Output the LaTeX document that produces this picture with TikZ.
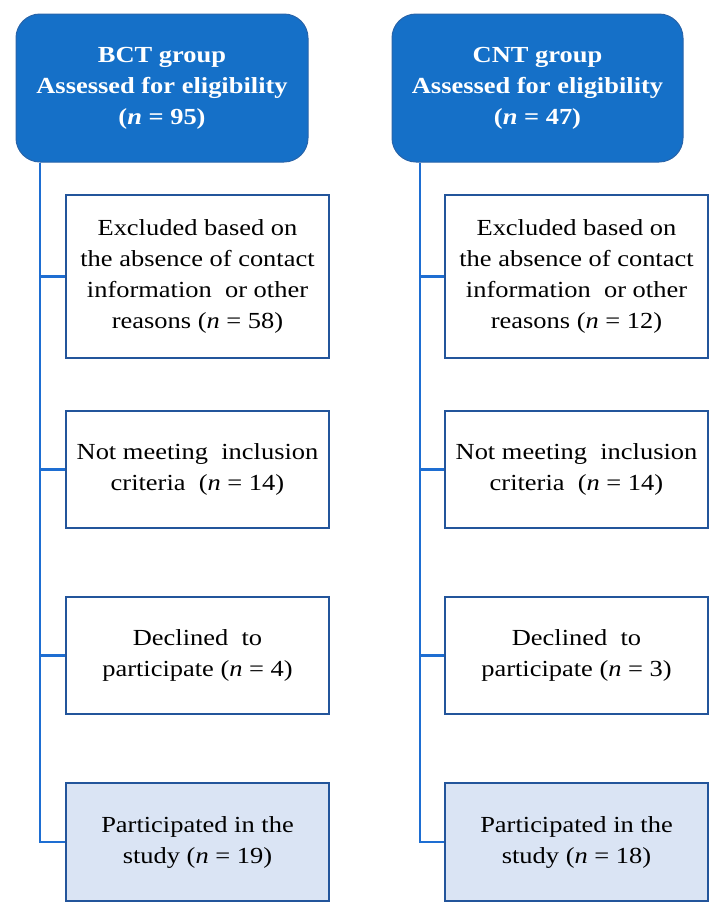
\documentclass[tikz,border=0pt]{standalone}
\usepackage{fontspec}
\setmainfont{Liberation Serif}[FakeStretch=1.15]
\begin{document}
\begin{tikzpicture}[x=1pt,y=-1pt,
  headbox/.style={draw=headborder, line width=1pt, fill=headblue, rounded corners=24pt,
    text=white, font=\fontsize{23}{31}\selectfont\bfseries, align=center,
    minimum width=292pt, minimum height=148pt, inner sep=0pt},
  stagebox/.style={draw=boxborder, line width=2.6pt, fill=white, align=center,
    font=\fontsize{23}{31}\selectfont, minimum width=263pt, inner sep=0pt},
  finalbox/.style={stagebox, fill=lightfill},
  link/.style={draw=linkblue, line width=2.4pt}]
\definecolor{headblue}{RGB}{21,112,200}
\definecolor{headborder}{RGB}{40,100,170}
\definecolor{boxborder}{RGB}{35,85,155}
\definecolor{linkblue}{RGB}{30,110,210}
\definecolor{lightfill}{RGB}{218,228,244}
\useasboundingbox (0,0) rectangle (719,916);
% left column
\node[headbox] (bct) at (162,88) {BCT group\\Assessed for eligibility\\(\textit{n} = 95)};
\node[stagebox, minimum height=163pt] (l1) at (197.5,276.5) {Excluded based on\\the absence of contact\\information\ \ or other\\reasons (\textit{n} = 58)};
\node[stagebox, minimum height=117pt] (l2) at (197.5,469.5) {Not meeting\ \ inclusion\\criteria\ \ (\textit{n} = 14)};
\node[stagebox, minimum height=117pt] (l3) at (197.5,655.5) {Declined\ \ to\\participate (\textit{n} = 4)};
\node[finalbox, minimum height=118pt] (l4) at (197.5,842) {Participated in the\\study (\textit{n} = 19)};
% right column
\node[headbox, minimum width=291pt] (cnt) at (537.5,88) {CNT group\\Assessed for eligibility\\(\textit{n} = 47)};
\node[stagebox, minimum height=163pt] (r1) at (576.5,276.5) {Excluded based on\\the absence of contact\\information\ \ or other\\reasons (\textit{n} = 12)};
\node[stagebox, minimum height=117pt] (r2) at (576.5,469.5) {Not meeting\ \ inclusion\\criteria\ \ (\textit{n} = 14)};
\node[stagebox, minimum height=117pt] (r3) at (576.5,655.5) {Declined\ \ to\\participate (\textit{n} = 3)};
\node[finalbox, minimum height=118pt] (r4) at (576.5,842) {Participated in the\\study (\textit{n} = 18)};
% connectors
\coordinate (lx) at (40,0);
\coordinate (rx) at (420,0);
\draw[link] (lx |- bct.south) -- (lx |- l4.west) -- (l4.west);
\draw[link] (lx |- l1.west) -- (l1.west);
\draw[link] (lx |- l2.west) -- (l2.west);
\draw[link] (lx |- l3.west) -- (l3.west);
\draw[link] (rx |- cnt.south) -- (rx |- r4.west) -- (r4.west);
\draw[link] (rx |- r1.west) -- (r1.west);
\draw[link] (rx |- r2.west) -- (r2.west);
\draw[link] (rx |- r3.west) -- (r3.west);
\end{tikzpicture}
\end{document}
